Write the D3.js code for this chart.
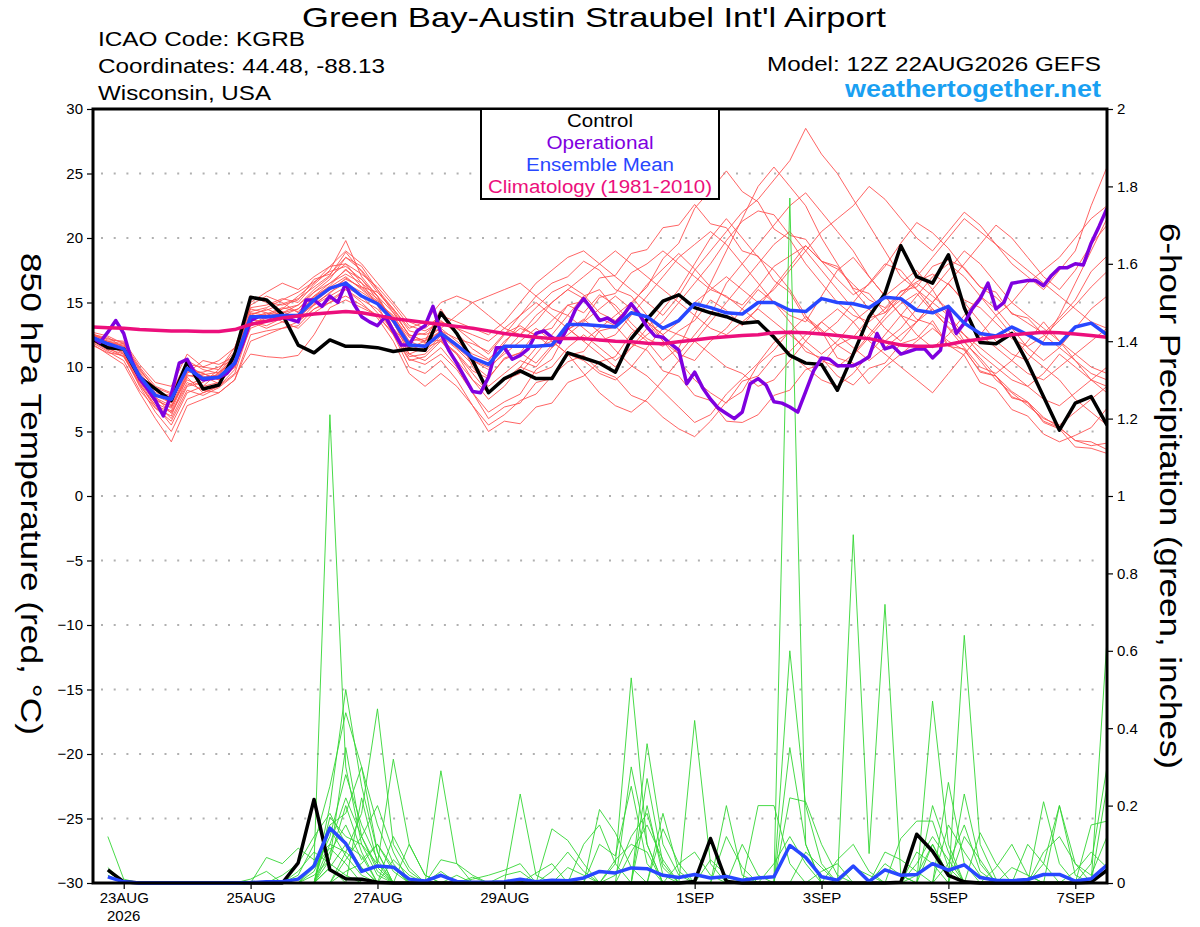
<!DOCTYPE html>
<html>
<head>
<meta charset="utf-8">
<script src="https://cdn.jsdelivr.net/npm/d3@7"></script>
<style>
  body { margin: 0; background: #fff; }
  svg { display: block; }
  text { font-family: "Liberation Sans", Arial, sans-serif; }
</style>
</head>
<body>
<svg id="chart" width="1200" height="927"></svg>
<script>
// forecast hours run 0..384 from 12Z 22AUG2026, members every 6 h, operational every 3 h
const tickHours = [12, 60, 108, 156, 228, 276, 324, 372];
const tickLabels = ['23AUG', '25AUG', '27AUG', '29AUG', '1SEP', '3SEP', '5SEP', '7SEP'];

const controlTemp = [
  12.2, 11.5, 11.4, 9.2, 8.3, 7.4, 10.4, 8.3, 8.6, 11.0, 15.4, 15.2, 14.1, 11.7, 11.1, 12.1, 11.6, 11.6, 11.5, 11.2, 11.4, 11.3,
  14.2, 12.6, 10.5, 8.0, 9.1, 9.7, 9.1, 9.1, 11.1, 10.7, 10.3, 9.6, 12.2, 13.7, 15.1, 15.6, 14.6, 14.2, 13.9, 13.4, 13.5,
  12.3, 10.9, 10.3, 10.2, 8.2, 11.0, 13.9, 15.7, 19.4, 17.0, 16.5, 18.7, 14.6, 11.9, 11.8, 12.6, 10.3, 7.7, 5.1, 7.2, 7.7, 5.5
];

const operationalTemp = [
  12.3, 11.9, 12.7, 13.6, 12.6, 10.5, 9.1, 8.3, 7.4, 6.2,
  7.9, 10.3, 10.6, 9.5, 9.0, 9.1, 9.2, 9.5, 10.3, 11.8,
  13.6, 13.9, 13.9, 13.9, 13.9, 13.7, 13.5, 15.2, 15.2, 14.7,
  15.5, 15.0, 16.5, 14.9, 13.9, 13.5, 13.2, 13.9, 12.8, 11.7,
  11.7, 12.8, 13.2,
  14.7, 12.6, 11.3, 10.3, 9.2, 8.1, 8.0, 9.2, 11.5, 11.5,
  10.6, 10.9, 11.4, 12.6, 12.8, 12.3, 11.9, 13.1, 14.5, 15.3,
  14.5, 13.6, 13.8, 13.4, 14.0, 14.9, 14.1, 13.1, 12.4, 12.3,
  11.8, 11.3, 8.7, 9.6, 8.4, 7.5, 6.8, 6.4, 6.0, 6.5,
  8.7, 9.1,
  8.6, 7.3, 7.2, 6.9, 6.5, 8.1, 9.7, 10.7, 10.6, 10.1,
  10.1, 10.1, 10.4, 10.8, 12.6, 11.4, 11.6, 11.0, 11.2, 11.4,
  11.4, 10.7, 11.3, 14.5, 12.6, 13.4, 14.5, 15.3, 16.5, 14.5,
  15.0, 16.5, 16.6, 16.7, 16.7, 16.3, 17.1, 17.7, 17.7, 18.0,
  17.9, 19.6, 20.9, 22.3
];

const meanTemp = [
  12.3, 11.8, 11.4, 9.3, 7.8, 7.5, 9.9, 9.1, 9.2, 10.3, 13.9, 13.9, 14.0, 14.0, 15.2, 16.1, 16.5, 15.5, 14.9, 13.6, 11.7, 11.6,
  12.6, 11.7, 10.7, 10.2, 11.6, 11.6, 11.6, 11.7, 13.3, 13.3, 13.2, 13.1, 14.2, 13.9, 13.0, 13.6, 14.9, 14.6, 14.2, 14.1, 15.0,
  15.0, 14.4, 14.3, 15.3, 15.0, 14.9, 14.6, 15.4, 15.3, 14.4, 14.2, 14.7, 13.4, 12.6, 12.4, 13.1, 12.5, 11.8, 11.8, 13.1, 13.4, 12.5
];

const climoTemp = [
  13.1, 13.05, 13.0, 12.9, 12.85, 12.8, 12.8, 12.75, 12.75, 12.9, 13.3, 13.55, 13.8, 13.95, 14.1, 14.2, 14.3, 14.2, 14.0, 13.75, 13.6, 13.45,
  13.3, 13.15, 13.0, 12.8, 12.6, 12.45, 12.3, 12.2, 12.2, 12.2, 12.1, 12.0, 11.95, 11.85, 11.8, 11.95, 12.1, 12.25, 12.35, 12.45, 12.5,
  12.65, 12.7, 12.65, 12.55, 12.45, 12.3, 12.2, 11.95, 11.7, 11.6, 11.6, 11.75, 12.0, 12.15, 12.35, 12.5, 12.6, 12.7, 12.65, 12.55, 12.45, 12.3
];

const memberTemps = [
  [12.5,12.0,11.8,9.8,8.3, 7.0,9.0,8.5,9.6,11.0, 14.6,14.8,15.3,15.0,16.4, 17.5,19.8,17.0,15.5,13.0, 11.5,12.0,13.5,13.0,12.0, 11.0,12.5,14.0,15.5,16.5, 17.0,18.2,17.5,16.0,15.5, 14.0,12.0,11.0,12.5,14.0, 16.5,18.0,19.5,21.0,22.5, 23.5,22.0,20.5,19.0,17.0, 15.5,14.0,13.5,15.0,16.5, 15.0,13.5,12.0,11.0,10.5, 12.0,14.0,16.5,19.0,21.5],
  [12.0,11.5,10.8,8.8,7.0, 5.5,8.0,8.5,8.8,10.0, 13.0,13.5,14.5,14.8,15.8, 16.8,18.5,17.8,16.0,14.2, 12.5,12.0,14.5,12.5,10.0, 8.5,9.5,10.5,10.0,11.5, 13.0,12.0,11.0,10.0,11.5, 13.0,14.5,16.0,18.0,20.0, 21.5,20.0,18.5,17.5,16.0, 14.0,12.5,13.5,15.0,16.5, 18.0,17.5,16.0,14.5,13.0, 11.5,10.0,9.5,10.5,12.0, 13.5,12.0,10.5,9.0,8.0],
  [12.6,11.9,11.6,9.5,7.5, 6.8,9.5,10.5,10.2,10.8, 14.2,14.0,14.5,15.5,16.5, 17.8,18.0,16.5,14.8,12.5, 10.5,10.8,12.0,11.0,9.5, 8.0,9.0,9.5,11.0,12.5, 14.0,15.5,16.0,14.5,13.0, 12.0,10.5,11.5,14.0,16.5, 19.0,21.5,24.0,25.5,24.0, 22.5,20.0,18.0,16.0,14.5, 13.0,12.0,13.5,15.0,14.0, 12.5,11.0,10.0,9.0,8.5, 9.5,11.0,10.0,9.0,8.5],
  [11.8,11.0,10.2,8.0,6.0, 4.2,7.0,7.5,8.0,9.0, 12.0,12.5,13.0,13.2,14.5, 15.0,15.5,14.8,14.0,12.5, 10.0,9.5,10.5,9.0,7.0, 5.0,5.8,5.6,6.9,7.2, 8.8,9.3,10.4,10.8,12.6, 13.5,12.5,11.0,10.5,12.0, 13.0,14.5,16.0,15.0,13.5, 12.0,11.0,12.0,13.5,14.5, 15.5,16.5,17.5,16.0,14.0, 12.0,10.5,9.0,8.0,7.0, 6.0,5.5,6.5,7.5,8.5],
  [12.2,11.6,11.2,9.0,7.8, 7.2,10.0,9.5,9.0,10.5, 14.8,15.5,15.0,14.2,15.0, 16.0,16.8,16.2,15.8,14.5, 12.8,12.5,13.0,14.0,15.0, 15.5,16.0,16.5,15.5,14.5, 14.0,13.0,12.0,12.5,14.0, 15.5,17.0,18.5,19.5,20.5, 19.5,18.0,16.5,15.0,14.0, 13.5,15.5,17.5,18.5,17.0, 15.5,14.0,12.5,11.5,12.5, 14.0,15.5,14.5,13.0,11.5, 10.5,11.5,13.0,14.5,15.5],
  [12.4,12.2,11.9,10.0,8.5, 8.0,10.5,9.8,9.5,10.8, 13.5,13.0,13.5,14.0,15.5, 16.2,17.0,16.0,15.0,14.0, 12.0,11.5,12.5,11.5,10.5, 10.0,11.0,12.0,13.0,12.0, 11.0,10.5,9.5,9.0,10.0, 11.5,13.0,12.5,12.0,11.0, 10.0,9.5,8.5,9.0,10.5, 12.0,13.5,14.5,13.5,12.0, 11.0,10.0,9.0,8.0,9.5, 11.0,12.5,14.0,15.0,16.5, 17.5,18.5,20.0,21.5,22.5],
  [12.1,11.4,11.0,8.5,6.5, 5.0,7.5,8.0,8.5,9.5, 13.2,13.8,14.2,14.5,15.8, 16.5,17.5,16.8,15.5,13.5, 11.0,10.5,11.5,10.0,8.0, 6.5,7.3,7.9,9.8,10.6, 12.9,13.6,15.4,15.7,17.3, 18.0,19.0,18.0,17.0,16.0, 15.5,14.5,13.5,12.5,11.0, 10.0,9.0,8.5,9.5,11.0, 12.5,14.0,15.5,17.0,18.0, 17.0,15.5,14.0,12.5,11.0, 10.0,9.0,7.5,6.5,5.5],
  [12.5,12.3,11.5,9.2,7.2, 6.0,8.5,8.8,9.8,11.5, 15.0,15.8,16.5,16.0,17.0, 17.8,19.0,18.0,16.5,15.0, 13.5,13.0,14.0,13.5,13.0, 12.5,13.5,15.0,16.5,17.5, 18.5,19.0,18.0,17.0,16.0, 15.0,14.0,15.5,17.5,19.0, 20.5,22.0,23.0,24.5,26.0, 28.5,26.5,25.0,23.0,21.0, 19.0,17.0,16.0,15.0,16.5, 18.0,19.5,21.0,20.0,18.5, 17.0,16.0,17.5,19.5,21.0],
  [11.9,11.2,10.5,8.2,6.8, 6.2,9.2,8.0,8.5,9.8, 13.5,13.2,13.8,14.0,14.8, 15.5,16.2,15.5,14.2,12.8, 10.8,11.0,12.2,11.0,9.0, 7.5,8.5,10.0,11.5,12.0, 11.0,9.5,8.0,7.0,6.5, 7.5,9.0,10.5,12.0,13.5, 15.0,16.5,18.0,19.5,20.5, 19.0,17.5,16.0,14.5,13.0, 12.0,13.0,14.5,16.0,17.5, 19.0,18.0,16.5,15.0,14.0, 13.0,12.0,11.0,10.0,9.5],
  [12.3,11.7,11.3,9.6,8.0, 7.8,9.8,9.5,9.0,10.2, 14.0,14.5,14.0,13.5,14.8, 15.8,16.5,15.8,15.0,13.8, 12.0,12.2,13.0,12.0,11.0, 10.5,12.0,13.0,12.5,11.5, 12.5,13.5,14.5,15.5,14.5, 13.5,12.5,13.5,15.0,16.0, 17.0,16.0,15.0,16.0,17.5, 19.0,20.5,21.5,22.5,24.0, 23.0,21.5,20.0,19.0,20.5, 22.0,21.0,19.5,18.0,17.0, 16.0,17.5,19.0,22.5,25.5],
  [12.0,11.3,10.8,8.6,7.0, 6.5,8.8,8.2,8.0,9.0, 12.5,12.8,13.0,13.5,14.5, 15.2,16.0,15.0,13.8,12.0, 9.5,8.5,9.5,8.5,7.0, 5.5,6.3,7.4,7.9,9.3, 10.4,10.9,9.7,9.2,7.8, 7.3,6.1,5.2,4.6,5.8, 7.3,8.1,10.2,11.3,12.8, 11.2,10.7,9.3,8.6,9.9, 10.3,11.8,12.2,13.6,11.7, 10.9,8.8,8.3,6.7,6.2, 4.8,4.2,4.7,5.3,6.8],
  [12.6,12.1,12.0,10.2,8.8, 8.5,11.0,10.0,9.8,11.2, 15.5,15.0,14.8,15.2,16.8, 17.2,18.5,17.5,16.0,14.5, 13.0,13.5,15.0,15.5,15.0, 14.0,13.0,12.5,13.5,15.0, 16.0,17.0,18.0,19.0,18.0, 17.0,16.0,15.0,14.0,13.0, 12.5,13.5,14.5,13.5,12.5, 11.5,10.5,10.0,11.0,12.5, 14.0,15.5,16.5,15.5,14.5, 13.5,12.5,11.5,10.5,9.5, 9.0,10.0,11.0,12.0,13.0],
  [12.2,11.8,11.0,8.9,7.2, 6.6,9.4,9.0,9.2,10.0, 13.8,14.2,13.5,13.0,14.2, 15.0,16.0,15.2,14.5,13.0, 11.0,11.5,12.0,10.5,9.0, 8.0,9.0,10.0,9.5,10.0, 11.5,12.5,11.5,10.5,11.5, 12.5,13.5,15.0,16.5,18.0, 19.8,21.3,22.1,21.8,20.2, 19.9,18.2,17.8,16.1,15.7, 14.2,15.9,16.2,17.8,18.3, 17.7,16.2,15.8,14.1,13.8, 12.5,11.5,10.5,9.5,9.0],
  [12.4,11.9,11.7,9.9,8.2, 7.6,10.2,10.0,10.5,11.5, 14.5,14.2,14.0,14.5,15.5, 16.5,17.2,16.5,15.5,14.2, 12.5,12.0,12.8,11.8,10.5, 9.8,11.2,12.5,14.0,15.0, 16.0,15.3,13.8,13.2,11.8, 11.3,9.7,9.3,7.8,7.4, 5.8,5.7,6.3,7.8,8.2, 9.8,10.2,11.7,12.3,13.8, 14.2,15.2,13.7,13.3,11.6, 11.4,9.6,9.3,7.7,7.2, 5.8,5.3,4.3,4.2,3.6],
  [12.7,12.4,11.8,9.4,7.6, 7.0,9.6,9.6,10.0,10.6, 13.6,13.6,14.2,14.8,16.0, 17.0,18.0,17.2,16.2,14.8, 13.2,12.8,13.5,13.0,12.5, 12.0,13.0,14.0,15.0,14.0, 13.0,12.0,13.0,14.0,15.0, 16.2,18.4,19.6,22.3,23.7, 25.2,23.6,22.8,20.7,19.9, 18.0,16.5,15.0,14.0,13.5, 14.5,15.5,17.0,18.5,20.0, 21.5,20.5,19.5,18.5,17.5, 16.5,15.5,14.5,13.5,13.0],
  [11.7,11.1,10.9,8.7,6.8, 5.8,8.2,7.8,8.4,9.4, 11.0,10.8,10.7,10.9,12.5, 14.6,15.2,14.6,14.0,12.6, 10.6,10.2,11.0,9.8,8.0, 6.0,6.9,7.2,8.8,9.1, 10.9,11.2,12.8,13.1,14.7, 13.5,12.0,10.5,9.0,8.0, 7.2,8.9,9.3,10.8,11.2, 12.5,13.5,12.5,11.5,10.5, 11.5,12.5,13.5,14.5,13.5, 12.5,11.5,10.5,9.5,8.5, 7.5,7.0,8.0,9.0,10.0],
  [12.3,12.0,11.6,9.7,8.4, 7.9,10.4,9.2,9.4,10.9, 14.3,14.6,15.2,15.8,16.6, 17.4,17.8,16.8,15.2,13.4, 11.4,11.2,12.4,11.4,10.2, 9.2,10.6,11.1,12.7,13.0, 14.8,15.1,16.9,17.1,18.8, 19.1,20.8,21.0,22.6,21.1, 20.8,19.0,18.6,16.7,15.8, 13.7,12.8,10.7,10.3,8.7, 10.0,11.0,12.0,13.0,12.0, 11.3,9.7,9.3,7.6,7.3, 5.7,5.2,3.8,3.7,3.3],
  [12.1,11.5,11.4,9.1,7.4, 6.9,9.3,9.4,9.6,10.4, 13.7,14.1,14.6,14.3,15.4, 16.3,17.6,16.2,15.3,13.7, 11.3,11.8,12.8,12.2,11.8, 11.2,12.6,13.2,12.4,13.6, 14.8,14.2,15.6,14.8,13.4, 12.2,11.6,12.8,13.6,15.2, 14.4,13.2,14.6,16.2,17.8, 19.4,18.2,16.8,15.6,16.4, 17.8,19.6,21.2,20.4,19.2, 17.6,16.2,15.4,14.2,13.4, 12.6,13.8,15.2,17.4,18.6],
  [12.5,11.7,11.1,9.0,7.9, 7.3,9.7,9.3,8.7,10.1, 13.3,13.9,14.3,13.8,14.9, 15.7,16.9,16.1,15.1,13.9, 12.3,11.9,12.1,11.1,9.7, 9.1,10.7,11.1,10.3,11.7, 12.9,13.7,12.7,11.3,10.1, 9.3,8.1,6.9,5.7,6.3, 7.9,9.1,10.3,11.9,12.7, 13.9,12.9,11.7,10.9,12.3, 13.7,14.9,15.7,14.3,13.1, 11.9,10.7,9.3,8.1,7.3, 6.1,5.3,4.3,3.9,4.1],
  [12.0,11.9,11.3,9.3,7.7, 6.4,8.6,9.1,9.4,10.6, 14.1,14.4,14.9,15.3,16.2, 17.1,18.9,17.4,15.8,14.4, 12.4,12.6,13.6,12.6,11.4, 10.6,11.8,13.4,14.6,15.8, 16.4,15.6,14.2,13.6,14.8, 16.4,17.6,18.8,17.6,16.2, 15.4,14.8,16.2,17.8,18.6, 19.4,18.2,17.6,16.4,15.2, 14.6,15.8,16.6,17.2,16.4, 15.2,14.6,13.4,12.2,11.6, 12.4,13.6,14.8,16.2,17.4]
];

// 6-hour precipitation, steps 1..64 (hours 6..384)
const controlPrecip = [
  0.034, 0.003, 0, 0, 0, 0, 0, 0,
  0, 0, 0, 0, 0.052, 0.216, 0.034, 0.011,
  0.01, 0.002, 0, 0, 0, 0, 0, 0,
  0, 0, 0, 0, 0, 0, 0, 0,
  0, 0, 0, 0, 0, 0.004, 0.115, 0.004,
  0, 0, 0, 0, 0, 0, 0, 0,
  0, 0, 0.002, 0.126, 0.082, 0.02, 0.003, 0,
  0, 0, 0, 0, 0, 0, 0.002, 0.033
];

const meanPrecip = [
  0.016, 0.003, 0, 0, 0, 0, 0, 0,
  0, 0.001, 0.003, 0.003, 0.01, 0.044, 0.142, 0.102,
  0.03, 0.044, 0.041, 0.01, 0.005, 0.02, 0.004, 0.002,
  0.002, 0.003, 0.01, 0.003, 0.007, 0.006, 0.013, 0.03,
  0.026, 0.039, 0.037, 0.02, 0.014, 0.022, 0.013, 0.017,
  0.007, 0.013, 0.016, 0.097, 0.066, 0.016, 0.007, 0.044,
  0.004, 0.034, 0.02, 0.022, 0.05, 0.033, 0.047, 0.014,
  0.007, 0.006, 0.009, 0.022, 0.022, 0.005, 0.011, 0.046
];

// members: {step: inches}, steps not listed had no rain
const memberPrecip = [
  {1: 0.04, 14: 0.05, 15: 1.21, 16: 0.3, 17: 0.1, 18: 0.02, 33: 0.05, 34: 0.53, 35: 0.1, 52: 0.02, 53: 0.1, 54: 0.02},
  {1: 0.12, 2: 0.01, 15: 0.2, 16: 0.5, 17: 0.25, 18: 0.08, 22: 0.03, 44: 1.77, 45: 0.1, 60: 0.05, 61: 0.2, 62: 0.02},
  {1: 0.03, 13: 0.02, 14: 0.1, 15: 0.25, 16: 0.44, 17: 0.3, 18: 0.15, 19: 0.05, 27: 0.23, 28: 0.02, 40: 0.2, 41: 0.02, 48: 0.9, 49: 0.076, 50: 0.72, 51: 0.02},
  {1: 0.02, 11: 0.066, 12: 0.05, 13: 0.09, 14: 0.06, 15: 0.1, 16: 0.08, 17: 0.18, 18: 0.45, 19: 0.1, 20: 0.03, 55: 0.64, 56: 0.1, 57: 0.01},
  {15: 0.17, 16: 0.12, 17: 0.1, 18: 0.05, 19: 0.32, 20: 0.1, 21: 0.02, 35: 0.36, 36: 0.1, 37: 0.02, 53: 0.47, 54: 0.1, 64: 0.63},
  {14: 0.03, 15: 0.12, 16: 0.28, 17: 0.15, 18: 0.06, 22: 0.29, 23: 0.05, 32: 0.19, 33: 0.13, 34: 0.04, 38: 0.42, 39: 0.05, 54: 0.26, 55: 0.05},
  {15: 0.08, 16: 0.15, 17: 0.06, 18: 0.1, 19: 0.04, 29: 0.14, 30: 0.11, 31: 0.05, 35: 0.27, 36: 0.05, 44: 0.6, 45: 0.2, 46: 0.05, 55: 0.23, 56: 0.05},
  {12: 0.02, 13: 0.05, 14: 0.12, 15: 0.18, 16: 0.1, 17: 0.07, 20: 0.1, 21: 0.02, 24: 0.01, 25: 0.02, 26: 0.033, 27: 0.05, 42: 0.2, 43: 0.2, 44: 0.05, 60: 0.21, 61: 0.05},
  {16: 0.06, 17: 0.12, 18: 0.2, 19: 0.08, 32: 0.1, 33: 0.07, 34: 0.25, 35: 0.05, 44: 0.22, 45: 0.21, 46: 0.1, 47: 0.02, 63: 0.15, 64: 0.16},
  {15: 0.04, 16: 0.1, 17: 0.04, 22: 0.06, 23: 0.05, 24: 0.02, 36: 0.18, 37: 0.03, 51: 0.115, 52: 0.16, 53: 0.16, 54: 0.04, 59: 0.1, 60: 0.05},
  {14: 0.02, 15: 0.06, 16: 0.2, 17: 0.08, 30: 0.04, 31: 0.02, 36: 0.14, 37: 0.05, 41: 0.1, 42: 0.02, 52: 0.05, 53: 0.12, 54: 0.06, 61: 0.2, 62: 0.05, 63: 0.02, 64: 0.12},
  {15: 0.14, 16: 0.07, 17: 0.02, 33: 0.02, 34: 0.12, 35: 0.18, 36: 0.04, 48: 0.04, 49: 0.02, 56: 0.13, 57: 0.05, 62: 0.03, 63: 0.08, 64: 0.04},
  {16: 0.03, 17: 0.05, 18: 0.1, 19: 0.03, 28: 0.026, 29: 0.05, 40: 0.12, 41: 0.04, 50: 0.05, 51: 0.02, 54: 0.15, 55: 0.08, 56: 0.02, 64: 0.25},
  {15: 0.1, 16: 0.22, 17: 0.12, 18: 0.03, 31: 0.1, 32: 0.15, 33: 0.05, 45: 0.08, 46: 0.04, 52: 0.08, 53: 0.05, 58: 0.04, 59: 0.02},
  {14: 0.04, 15: 0.09, 16: 0.05, 19: 0.12, 20: 0.04, 34: 0.3, 35: 0.1, 39: 0.06, 40: 0.02, 53: 0.1, 54: 0.02, 60: 0.08, 61: 0.12, 62: 0.05},
  {10: 0.01, 11: 0.03, 15: 0.06, 16: 0.35, 17: 0.12, 18: 0.04, 26: 0.02, 27: 0.03, 37: 0.05, 38: 0.08, 39: 0.02, 47: 0.06, 48: 0.1, 49: 0.03},
  {1: 0.03, 15: 0.04, 17: 0.22, 18: 0.05, 24: 0.015, 33: 0.06, 34: 0.1, 35: 0.08, 43: 0.05, 44: 0.12, 45: 0.05, 55: 0.12, 56: 0.06},
  {15: 0.15, 16: 0.18, 17: 0.3, 18: 0.08, 23: 0.02, 35: 0.2, 36: 0.02, 50: 0.08, 51: 0.06, 52: 0.03, 57: 0.04, 58: 0.1, 59: 0.02},
  {13: 0.03, 14: 0.08, 15: 0.05, 16: 0.02, 29: 0.03, 30: 0.08, 31: 0.03, 46: 0.03, 47: 0.05, 53: 0.2, 54: 0.08, 63: 0.05, 64: 0.3},
  {16: 0.08, 17: 0.04, 19: 0.06, 20: 0.02, 34: 0.08, 35: 0.15, 36: 0.06, 44: 0.35, 45: 0.1, 54: 0.05, 55: 0.15, 56: 0.03}
];

const svg = d3.select('#chart');
const plot = { left: 93, right: 1107, top: 109, bottom: 883 };

const x = d3.scaleLinear().domain([0, 384]).range([92, 1107]);
const yT = d3.scaleLinear().domain([-30, 30]).range([plot.bottom, plot.top]);
const yP = d3.scaleLinear().domain([0, 2]).range([plot.bottom, plot.top]);

svg.append('defs').append('clipPath').attr('id', 'clip')
  .append('rect')
  .attr('x', plot.left).attr('y', plot.top - 2)
  .attr('width', plot.right - plot.left).attr('height', plot.bottom - plot.top + 4);

// dotted grid at the temperature ticks
svg.append('g')
  .selectAll('line')
  .data(d3.range(-25, 26, 5))
  .enter()
  .append('line')
  .attr('x1', 101).attr('x2', plot.right - 4)
  .attr('y1', d => yT(d)).attr('y2', d => yT(d))
  .attr('stroke', '#b0b0b0')
  .attr('stroke-width', 2)
  .attr('stroke-dasharray', '2,10.7');

const g = svg.append('g').attr('clip-path', 'url(#clip)');

const tempLine = d3.line().x((d, i) => x(i * 6)).y(d => yT(d));
const opLine = d3.line().x((d, i) => x(i * 3)).y(d => yT(d));
const precipLine = d3.line().x((d, i) => x((i + 1) * 6)).y(d => yP(d));
const fullPrecip = m => d3.range(1, 65).map(step => m[step] || 0);

g.selectAll('.member-t')
  .data(memberTemps)
  .enter()
  .append('path')
  .attr('class', 'member-t')
  .attr('d', tempLine)
  .attr('fill', 'none')
  .attr('stroke', '#ff5252')
  .attr('stroke-width', 0.9);

g.selectAll('.member-p')
  .data(memberPrecip.map(fullPrecip))
  .enter()
  .append('path')
  .attr('class', 'member-p')
  .attr('d', precipLine)
  .attr('fill', 'none')
  .attr('stroke', '#33d633')
  .attr('stroke-width', 0.9);

function thick(path, color) {
  g.append('path')
    .attr('d', path)
    .attr('fill', 'none')
    .attr('stroke', color)
    .attr('stroke-width', 3.5)
    .attr('stroke-linejoin', 'round');
}

thick(tempLine(controlTemp), '#000');
thick(precipLine(controlPrecip), '#000');
thick(opLine(operationalTemp), '#7f00df');
thick(tempLine(meanTemp), '#2847ff');
thick(precipLine(meanPrecip), '#2847ff');
thick(tempLine(climoTemp), '#ec0f7c');

// axes
const leftAxis = svg.append('g')
  .attr('transform', `translate(${plot.left},0)`)
  .call(d3.axisLeft(yT).tickValues(d3.range(-30, 31, 5)).tickSize(6).tickPadding(4));

const rightAxis = svg.append('g')
  .attr('transform', `translate(${plot.right},0)`)
  .call(d3.axisRight(yP).tickValues(d3.range(0, 2.01, 0.2)).tickSize(6).tickPadding(4)
    .tickFormat(d => String(+d.toFixed(1))));

const bottomAxis = svg.append('g')
  .attr('transform', `translate(0,${plot.bottom})`)
  .call(d3.axisBottom(x).tickValues(tickHours).tickSize(6).tickPadding(3)
    .tickFormat((d, i) => tickLabels[i]));

[leftAxis, rightAxis, bottomAxis].forEach(a => {
  a.select('.domain').remove();
  a.selectAll('line').attr('stroke', '#000').attr('stroke-width', 1.2);
  a.selectAll('text').attr('font-size', 15).attr('fill', '#000')
    .style('font-family', '"Liberation Sans", Arial, sans-serif');
});

svg.append('text')
  .attr('x', x(tickHours[0])).attr('y', 921)
  .attr('text-anchor', 'middle').attr('font-size', 15)
  .text('2026');

// frame
svg.append('rect')
  .attr('x', plot.left).attr('y', plot.top)
  .attr('width', plot.right - plot.left).attr('height', plot.bottom - plot.top)
  .attr('fill', 'none').attr('stroke', '#000').attr('stroke-width', 3);

// legend box
const legend = svg.append('g');
legend.append('rect')
  .attr('x', 481).attr('y', 109).attr('width', 238).attr('height', 90)
  .attr('fill', '#fff').attr('stroke', '#000').attr('stroke-width', 2);

const legendRows = [
  { label: 'Control', color: '#000', len: 66 },
  { label: 'Operational', color: '#7f00df', len: 107 },
  { label: 'Ensemble Mean', color: '#2847ff', len: 148 },
  { label: 'Climatology (1981-2010)', color: '#ec0f7c', len: 224 }
];
legend.selectAll('text')
  .data(legendRows)
  .enter()
  .append('text')
  .attr('x', 600)
  .attr('y', (d, i) => 127 + i * 22)
  .attr('text-anchor', 'middle')
  .attr('font-size', 18)
  .attr('fill', d => d.color)
  .attr('textLength', d => d.len)
  .attr('lengthAdjust', 'spacingAndGlyphs')
  .text(d => d.label);

// titles and header text
function label(txt, xPos, yPos, size, len, opts = {}) {
  return svg.append('text')
    .attr('x', xPos).attr('y', yPos)
    .attr('font-size', size)
    .attr('fill', opts.fill || '#000')
    .attr('font-weight', opts.bold ? 'bold' : null)
    .attr('textLength', len)
    .attr('lengthAdjust', 'spacingAndGlyphs')
    .text(txt);
}

label("Green Bay-Austin Straubel Int'l Airport", 302, 27, 28, 584);
label('ICAO Code: KGRB', 98, 46, 20, 207);
label('Coordinates: 44.48, -88.13', 98, 73, 20, 287);
label('Wisconsin, USA', 98, 100, 20, 173);
label('Model: 12Z 22AUG2026 GEFS', 767, 71, 20, 334);
label('weathertogether.net', 845, 97, 23, 256, { bold: true, fill: '#1aa0f2' });

svg.append('text')
  .attr('transform', 'translate(21,494) rotate(90)')
  .attr('text-anchor', 'middle')
  .attr('font-size', 30)
  .attr('textLength', 482)
  .attr('lengthAdjust', 'spacingAndGlyphs')
  .text('850 hPa Temperature (red, °C)');

svg.append('text')
  .attr('transform', 'translate(1160,496) rotate(90)')
  .attr('text-anchor', 'middle')
  .attr('font-size', 30)
  .attr('textLength', 546)
  .attr('lengthAdjust', 'spacingAndGlyphs')
  .text('6-hour Precipitation (green, inches)');
</script>
</body>
</html>
